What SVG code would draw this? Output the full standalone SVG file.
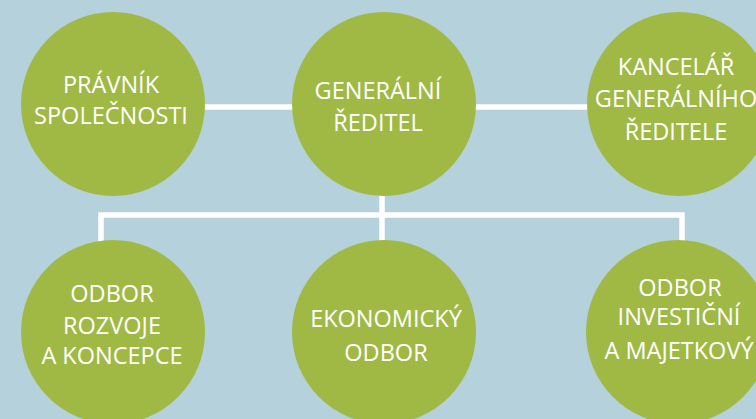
<svg xmlns="http://www.w3.org/2000/svg" width="756" height="419" viewBox="0 0 756 419">
<style>
.bg{fill:#b4d1dc}
.node{fill:#a0b944}
.conn{stroke:#ffffff;stroke-width:5.5;fill:none;stroke-linecap:butt}
.lbl{font-family:"Open Sans","Liberation Sans",sans-serif;font-size:23.5px;fill:#ffffff;text-anchor:middle}
</style>
<rect class="bg" x="0" y="0" width="756" height="419"/>
<g id="connectors">
<line class="conn" x1="200" y1="107" x2="298" y2="107"/>
<line class="conn" x1="470" y1="107" x2="592" y2="107"/>
<polyline class="conn" points="101,245 101,215 682,215 682,245"/>
<line class="conn" x1="382" y1="190" x2="382" y2="245"/>
</g>
<g id="n-pravnik">
<circle class="node" cx="113" cy="104" r="92"/>
<text class="lbl" x="111" y="92.5">PRÁVNÍK</text>
<text class="lbl" x="111" y="124">SPOLEČNOSTI</text>
</g>
<g id="n-generalni">
<circle class="node" cx="384" cy="104" r="92"/>
<text class="lbl" x="378" y="98.5">GENERÁLNÍ</text>
<text class="lbl" x="378" y="130.5">ŘEDITEL</text>
</g>
<g id="n-kancelar">
<circle class="node" cx="679" cy="104" r="92"/>
<text class="lbl" x="676" y="75">KANCELÁŘ</text>
<text class="lbl" x="676" y="107">GENERÁLNÍHO</text>
<text class="lbl" x="676" y="140">ŘEDITELE</text>
</g>
<g id="n-rozvoj">
<circle class="node" cx="113" cy="332" r="92"/>
<text class="lbl" x="112" y="301.5">ODBOR</text>
<text class="lbl" x="112" y="334">ROZVOJE</text>
<text class="lbl" x="112" y="364">A KONCEPCE</text>
</g>
<g id="n-ekonomicky">
<circle class="node" cx="384" cy="332" r="92"/>
<text class="lbl" x="386" y="326.5">EKONOMICKÝ</text>
<text class="lbl" x="386" y="360.5">ODBOR</text>
</g>
<g id="n-investicni">
<circle class="node" cx="678" cy="332" r="92"/>
<text class="lbl" x="680" y="296">ODBOR</text>
<text class="lbl" x="679" y="325">INVESTIČNÍ</text>
<text class="lbl" x="679" y="358.5">A MAJETKOVÝ</text>
</g>
</svg>
